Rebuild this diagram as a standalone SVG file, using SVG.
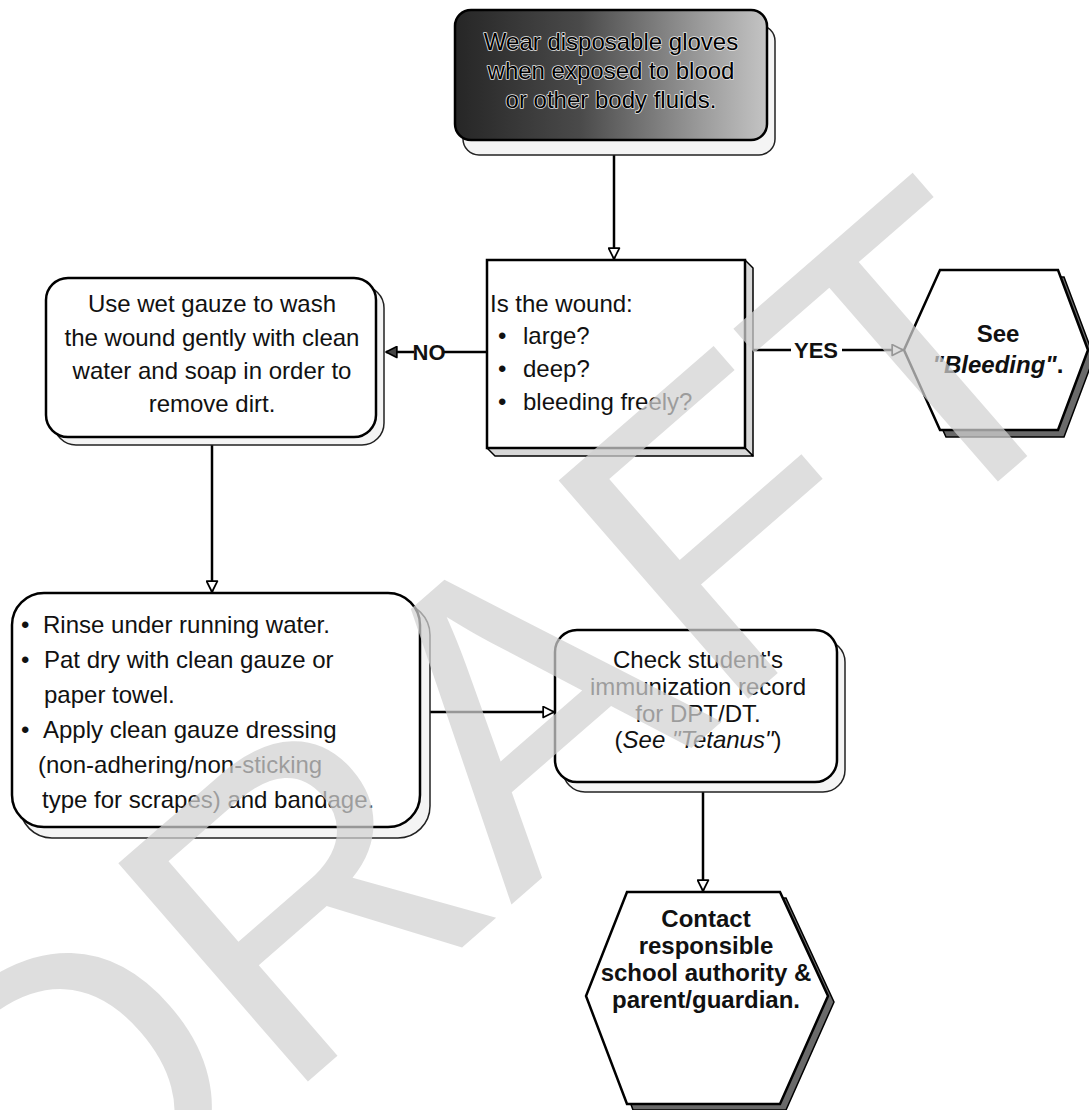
<svg xmlns="http://www.w3.org/2000/svg" width="1089" height="1110" viewBox="0 0 1089 1110">
<style>
  text { font-family: "Liberation Sans", Arial, sans-serif; fill: #111; }
  .t { font-size: 24px; }
  .c { text-anchor: middle; }
  .b { font-weight: bold; }
  .front { fill: #fff; stroke: #000; stroke-width: 2.5; }
  .back { fill: #f4f4f4; stroke: #222; stroke-width: 1.5; }
  .bevel { fill: #d8d8d8; stroke: #000; stroke-width: 1.5; stroke-linejoin: round; }
  .conn { stroke: #000; stroke-width: 2.5; fill: none; }
  .lbl { font-size: 22px; font-weight: bold; text-anchor: middle; }
  .halo { fill: #000; stroke: #e6e6e6; stroke-width: 1.6; paint-order: stroke; stroke-linejoin: round; }
  .wm { font-size: 420px; fill: #d2d2d2; opacity: 0.72; }
</style>
<defs>
  <linearGradient id="dark" x1="0" y1="0" x2="1" y2="0">
    <stop offset="0" stop-color="#262626"/>
    <stop offset="0.4" stop-color="#4a4a4a"/>
    <stop offset="0.78" stop-color="#999"/>
    <stop offset="1" stop-color="#c4c4c4"/>
  </linearGradient>
  <marker id="hollow" viewBox="0 0 12 12" refX="11" refY="6" markerWidth="13" markerHeight="13" markerUnits="userSpaceOnUse" orient="auto">
    <path d="M1,1 L11,6 L1,11 Z" fill="#fff" stroke="#000" stroke-width="1.6" stroke-linejoin="round"/>
  </marker>
  <marker id="solid" viewBox="0 0 12 12" refX="11" refY="6" markerWidth="13" markerHeight="13" markerUnits="userSpaceOnUse" orient="auto">
    <path d="M1,1 L11,6 L1,11 Z" fill="#444" stroke="#000" stroke-width="1.6" stroke-linejoin="round"/>
  </marker>
</defs>
<rect width="1089" height="1110" fill="#fff"/>

<g id="connectors">
  <path class="conn" d="M614,155 L614,259" marker-end="url(#hollow)"/>
  <path class="conn" d="M487,352 L444,352"/>
  <path class="conn" d="M414,352 L386,352" marker-end="url(#solid)"/>
  <text class="lbl" x="429" y="360">NO</text>
  <path class="conn" d="M753,350 L791,350"/>
  <path class="conn" d="M842,350 L903,350" marker-end="url(#hollow)"/>
  <text class="lbl" x="816" y="358">YES</text>
  <path class="conn" d="M212,445 L212,592" marker-end="url(#hollow)"/>
  <path class="conn" d="M430,712 L554,712" marker-end="url(#hollow)"/>
  <path class="conn" d="M703,792 L703,891" marker-end="url(#hollow)"/>
</g>

<g id="node-gloves">
  <rect class="back" x="463" y="25" width="312" height="130" rx="16"/>
  <rect x="455" y="10" width="312" height="130" rx="16" fill="url(#dark)" stroke="#000" stroke-width="2.5"/>
  <text class="t c halo" x="611" y="50">Wear disposable gloves</text>
  <text class="t c halo" x="611" y="79">when exposed to blood</text>
  <text class="t c halo" x="611" y="108">or other body fluids.</text>
</g>

<g id="node-question">
  <polygon class="bevel" points="745,260 753,268 753,456 745,448"/>
  <polygon class="bevel" points="487,448 745,448 753,456 495,456"/>
  <rect class="front" x="487" y="260" width="258" height="188"/>
  <text class="t" x="490" y="312">Is the wound:</text>
  <text class="t" x="498" y="344">•</text><text class="t" x="523" y="344">large?</text>
  <text class="t" x="498" y="377">•</text><text class="t" x="523" y="377">deep?</text>
  <text class="t" x="498" y="410">•</text><text class="t" x="523" y="410">bleeding freely?</text>
</g>

<g id="node-bleeding">
  <polygon points="910,357 946,277 1064,277 1094,357 1064,437 946,437" fill="#6a6a6a" stroke="#000" stroke-width="1.5"/>
  <polygon class="front" points="904,350 940,270 1058,270 1088,350 1058,430 940,430"/>
  <text class="t c b" x="998" y="342">See</text>
  <text class="t c b" x="998" y="373"><tspan font-style="italic">"Bleeding"</tspan>.</text>
</g>

<g id="node-wash">
  <rect class="back" x="54" y="286" width="330" height="159" rx="22"/>
  <rect class="front" x="46" y="278" width="330" height="159" rx="22"/>
  <text class="t c" x="212" y="312">Use wet gauze to wash</text>
  <text class="t c" x="212" y="346">the wound gently with clean</text>
  <text class="t c" x="212" y="379">water and soap in order to</text>
  <text class="t c" x="212" y="412">remove dirt.</text>
</g>

<g id="node-rinse">
  <rect class="back" x="20" y="603" width="410" height="235" rx="32"/>
  <rect class="front" x="12" y="593" width="408" height="234" rx="32"/>
  <text class="t" x="21" y="633">•</text><text class="t" x="43" y="633">Rinse under running water.</text>
  <text class="t" x="21" y="668">•</text><text class="t" x="44" y="668">Pat dry with clean gauze or</text>
  <text class="t" x="44" y="703">paper towel.</text>
  <text class="t" x="21" y="738">•</text><text class="t" x="43" y="738">Apply clean gauze dressing</text>
  <text class="t" x="38" y="773">(non-adhering/non-sticking</text>
  <text class="t" x="42" y="808">type for scrapes) and bandage.</text>
</g>

<g id="node-check">
  <rect class="back" x="563" y="640" width="282" height="152" rx="22"/>
  <rect class="front" x="555" y="630" width="282" height="152" rx="22"/>
  <text class="t c" x="698" y="668">Check student's</text>
  <text class="t c" x="698" y="695">immunization record</text>
  <text class="t c" x="698" y="722">for DPT/DT.</text>
  <text class="t c" x="698" y="748">(<tspan font-style="italic">See "Tetanus"</tspan>)</text>
</g>

<g id="node-contact">
  <polygon points="633,898 786,898 834,1002 786,1110 633,1110 594,1002" fill="#6a6a6a" stroke="#000" stroke-width="1.5"/>
  <polygon class="front" points="627,892 780,892 828,996 780,1104 627,1104 586,996"/>
  <text class="t c b" x="706" y="927">Contact</text>
  <text class="t c b" x="706" y="954">responsible</text>
  <text class="t c b" x="706" y="981">school authority &amp;</text>
  <text class="t c b" x="706" y="1008">parent/guardian.</text>
</g>

<g id="watermark">
  <text class="wm" transform="translate(53,1303) rotate(-41)">DRAFT</text>
</g>
</svg>
